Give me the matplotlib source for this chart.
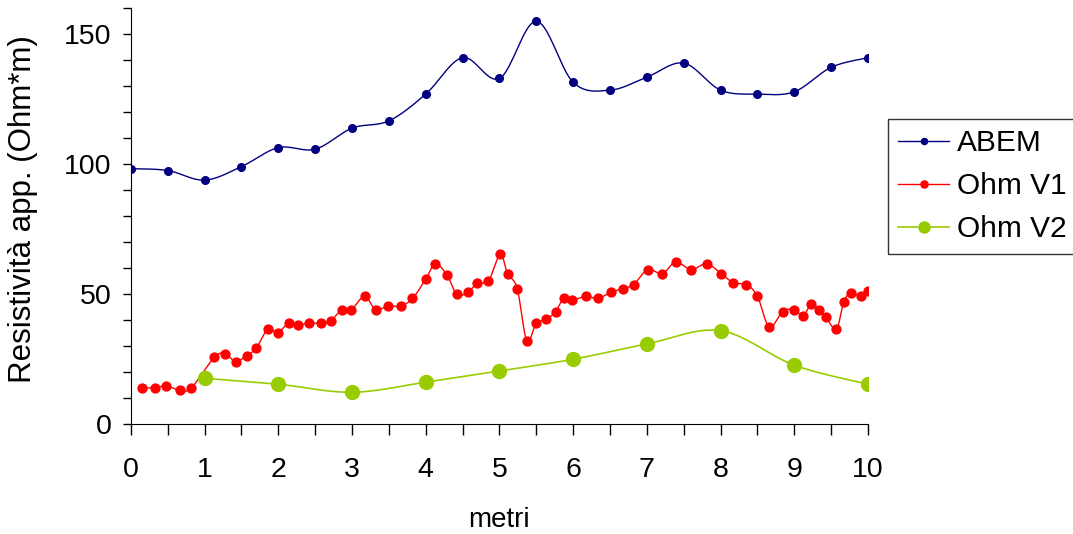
import numpy as np
import matplotlib
matplotlib.use("Agg")
import matplotlib.pyplot as plt
from matplotlib.ticker import MultipleLocator

plt.rcParams['font.family'] = ['Liberation Sans', 'DejaVu Sans']

# ABEM: one reading every half metre
abem_x = [0, 0.5, 1, 1.5, 2, 2.5, 3, 3.5, 4, 4.5, 5, 5.5, 6, 6.5, 7, 7.5, 8, 8.5, 9, 9.5, 10]
abem_y = [98.2, 97.5, 93.8, 99.0, 106.3, 105.7, 113.8, 116.6, 126.9, 140.9, 132.9,
          154.9, 131.4, 128.4, 133.4, 138.8, 128.4, 126.9, 127.8, 137.2, 140.9]

# Ohm V1: dense readings
v1_x = [0.15, 0.33, 0.48, 0.66, 0.82, 1.13, 1.28, 1.42, 1.57, 1.70, 1.86, 1.99,
        2.14, 2.27, 2.42, 2.58, 2.71, 2.86, 2.99, 3.17, 3.32, 3.49, 3.66, 3.82,
        4.00, 4.13, 4.29, 4.42, 4.57, 4.70, 4.85, 5.01, 5.11, 5.24, 5.37, 5.50,
        5.63, 5.76, 5.87, 5.99, 6.17, 6.33, 6.51, 6.67, 6.82, 7.01, 7.21, 7.39,
        7.60, 7.81, 8.01, 8.17, 8.35, 8.50, 8.66, 8.84, 8.99, 9.12, 9.23, 9.33,
        9.43, 9.57, 9.67, 9.77, 9.90, 10.0]
v1_y = [13.9, 13.9, 14.7, 13.0, 13.9, 25.6, 27.0, 24.0, 26.3, 29.2, 36.6, 35.1,
        38.8, 38.1, 38.8, 38.8, 39.6, 44.0, 44.0, 49.1, 44.0, 45.4, 45.4, 48.3,
        55.7, 61.6, 57.2, 49.9, 50.6, 54.3, 55.0, 65.2, 57.8, 52.1, 32.1, 38.8,
        40.2, 43.2, 48.3, 47.6, 49.1, 48.3, 50.6, 52.1, 53.6, 59.4, 57.8, 62.3,
        59.4, 61.6, 57.8, 54.3, 53.6, 49.1, 37.3, 43.2, 44.0, 41.7, 46.2, 44.0,
        41.0, 36.5, 46.9, 50.5, 49.1, 51.3]

# Ohm V2: one reading per metre
v2_x = [1, 2, 3, 4, 5, 6, 7, 8, 9, 10]
v2_y = [17.6, 15.3, 12.2, 16.1, 20.4, 24.9, 30.8, 35.9, 22.6, 15.3]


def smooth(x, y, n=20):
    # excel-like smoothed line (catmull-rom bezier)
    x = np.asarray(x, float)
    y = np.asarray(y, float)
    px = np.concatenate([[x[0]], x, [x[-1]]])
    py = np.concatenate([[y[0]], y, [y[-1]]])
    t = np.linspace(0, 1, n)
    xs, ys = [], []
    for i in range(1, len(px) - 2):
        p0 = np.array([px[i], py[i]])
        p3 = np.array([px[i + 1], py[i + 1]])
        c1 = p0 + (np.array([px[i + 1], py[i + 1]]) - np.array([px[i - 1], py[i - 1]])) / 6
        c2 = p3 - (np.array([px[i + 2], py[i + 2]]) - np.array([px[i], py[i]])) / 6
        b = ((1 - t) ** 3)[:, None] * p0 + (3 * (1 - t) ** 2 * t)[:, None] * c1 \
            + (3 * (1 - t) * t ** 2)[:, None] * c2 + (t ** 3)[:, None] * p3
        xs.append(b[:, 0])
        ys.append(b[:, 1])
    return np.concatenate(xs), np.concatenate(ys)


fig = plt.figure(figsize=(10.73, 5.34), dpi=100)
ax = fig.add_axes([0.122, 0.206, 0.687, 0.779])

series = [
    (abem_x, abem_y, "#000080", 5.5, 1.0, "ABEM"),
    (v1_x, v1_y, "#ff0000", 6.4, 1.0, "Ohm V1"),
    (v2_x, v2_y, "#99cc00", 10, 1.2, "Ohm V2"),
]
for x, y, c, ms, lw, lab in series:
    sx, sy = smooth(x, y)
    ax.plot(sx, sy, color=c, lw=lw)
    ax.plot(x, y, 'o', color=c, ms=ms, mec=c)
    ax.plot([], [], '-o', color=c, ms=ms * 0.8, lw=lw, label=lab)

ax.set_xlim(0, 10)
ax.set_ylim(0, 160)
ax.spines['top'].set_visible(False)
ax.spines['right'].set_visible(False)
ax.spines['left'].set_clip_on(False)
ax.xaxis.set_major_locator(MultipleLocator(1))
ax.xaxis.set_minor_locator(MultipleLocator(0.5))
ax.set_yticks([0, 50, 100, 150])
ax.yaxis.set_minor_locator(MultipleLocator(10))
ax.tick_params(which='both', direction='out', labelsize=20.5, width=1)
ax.tick_params(axis='x', which='both', length=8, pad=16)
ax.tick_params(axis='y', which='both', length=6, pad=8)

ax.set_xlabel("metri", fontsize=20, va='center')
ax.xaxis.set_label_coords(0.5, -0.231)
ax.set_ylabel("Resistività app. (Ohm*m)", fontsize=22.5, va='center')
ax.yaxis.set_label_coords(-0.1465, 0.517)

leg = ax.legend(loc='upper left', bbox_to_anchor=(888 / 1073, 1 - 119 / 534), bbox_transform=fig.transFigure,
                fontsize=21.5, frameon=True, fancybox=False, edgecolor='black',
                handlelength=1.7, handletextpad=0.25, borderpad=0.35, labelspacing=0.5,
                borderaxespad=0)
leg.get_frame().set_linewidth(1.0)

fig.savefig("out.png", dpi=100)
